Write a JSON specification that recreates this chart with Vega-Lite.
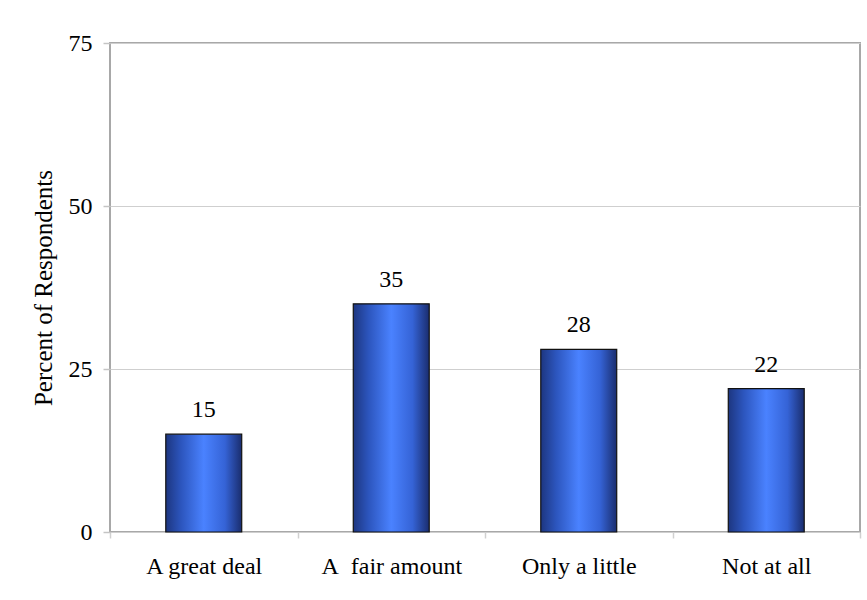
{
  "$schema": "https://vega.github.io/schema/vega-lite/v6.json",
  "width": 750,
  "height": 489,
  "autosize": "none",
  "padding": {"left": 110, "top": 43, "right": 7, "bottom": 68},
  "background": "white",
  "config": {
    "font": "Liberation Serif",
    "view": {"stroke": "#a8a8a8", "strokeWidth": 2}
  },
  "data": {
    "values": [
      {"response": "A great deal", "percent": 15},
      {"response": "A\u00a0 fair amount", "percent": 35},
      {"response": "Only a little", "percent": 28},
      {"response": "Not at all", "percent": 22}
    ]
  },
  "encoding": {
    "x": {
      "field": "response",
      "type": "nominal",
      "sort": null,
      "scale": {"paddingInner": 0, "paddingOuter": 0},
      "axis": {
        "title": null,
        "labelAngle": 0,
        "labelFontSize": 24,
        "labelColor": "#000000",
        "labelPadding": 16,
        "tickBand": "extent",
        "tickSize": 6,
        "tickColor": "#d0d0d0",
        "tickWidth": 1.5,
        "domain": false,
        "grid": false
      }
    },
    "y": {
      "field": "percent",
      "type": "quantitative",
      "scale": {"domain": [0, 75], "nice": false},
      "axis": {
        "title": "Percent of Respondents",
        "titleFontSize": 25,
        "titleFontWeight": "normal",
        "titleColor": "#000000",
        "titlePadding": 12,
        "values": [0, 25, 50, 75],
        "labelFontSize": 24,
        "labelColor": "#000000",
        "labelPadding": 11,
        "tickSize": 7,
        "tickColor": "#c4c4c4",
        "tickWidth": 1.5,
        "domain": false,
        "grid": true,
        "gridColor": "#cfcfcf",
        "gridWidth": 1
      }
    }
  },
  "layer": [
    {
      "mark": {
        "type": "bar",
        "width": {"band": 0.405},
        "stroke": "#111111",
        "strokeWidth": 1.2,
        "fill": {
          "gradient": "linear",
          "x1": 0, "x2": 1, "y1": 0, "y2": 0,
          "stops": [
            {"offset": 0, "color": "#1d3680"},
            {"offset": 0.2, "color": "#2c55bd"},
            {"offset": 0.5, "color": "#4a82ff"},
            {"offset": 0.78, "color": "#3563d6"},
            {"offset": 1, "color": "#1a2d6e"}
          ]
        }
      }
    },
    {
      "mark": {"type": "text", "baseline": "bottom", "dy": -12, "fontSize": 24, "color": "#000000"},
      "encoding": {"text": {"field": "percent", "type": "quantitative"}}
    }
  ]
}
